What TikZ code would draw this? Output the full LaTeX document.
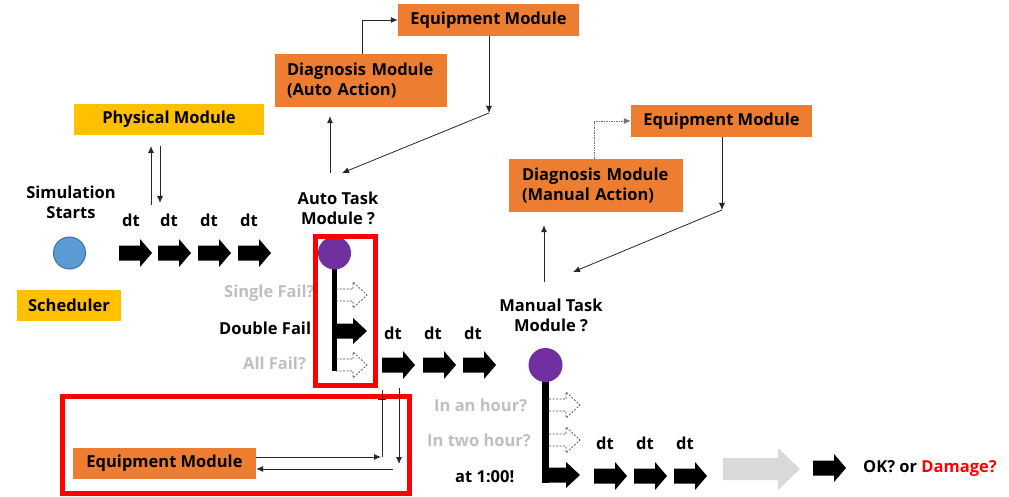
\documentclass[tikz,border=0pt]{standalone}
\usepackage{fontspec}
\setmainfont{Open Sans}
\usetikzlibrary{arrows.meta}
\definecolor{orng}{HTML}{ED7D31}
\definecolor{yel}{HTML}{FFC000}
\definecolor{purp}{HTML}{7030A0}
\definecolor{blu}{HTML}{5B9BD5}
\definecolor{bluedge}{HTML}{41719C}
\definecolor{lgray}{HTML}{BFBFBF}
\definecolor{arrgray}{HTML}{D9D9D9}
\definecolor{red1}{HTML}{FF0000}
\begin{document}
\begin{tikzpicture}[x=1pt,y=-1pt,
 font=\fontsize{16.5}{20}\selectfont\bfseries,
 box/.style={rectangle, inner sep=0pt, text=black},
 obox/.style={box, fill=orng},
 ybox/.style={box, fill=yel},
 lbl/.style={inner sep=0pt, align=center},
 glbl/.style={inner sep=0pt, anchor=west, text=lgray},
 blbl/.style={inner sep=0pt, anchor=west, text=black},
 conn/.style={draw=black!85, line width=0.8pt, -{Latex[length=7pt,width=6pt]}},
 plainline/.style={draw=black!85, line width=0.8pt},
 redbox/.style={draw=red1, line width=5pt},
 blk/.pic={\fill[black] (0,-7.5)--(21,-7.5)--(21,-14)--(33,0)--(21,14)--(21,7.5)--(0,7.5)--cycle;},
 blkshort/.pic={\fill[black] (0,-7.5)--(17,-7.5)--(17,-13)--(31,0)--(17,13)--(17,7.5)--(0,7.5)--cycle;},
 hol/.pic={\draw[black!70, line width=0.7pt, dash pattern=on 2pt off 1.5pt] (0,-6)--(17,-6)--(17,-13)--(31,0)--(17,13)--(17,6)--(0,6);},
]
\useasboundingbox (0,0) rectangle (1009,497);
\fill[white] (0,0) rectangle (1009,497);

% left part
\node[ybox, minimum width=190, minimum height=31] (phys) at (169,119.5) {\raisebox{-1pt}{Physical Module}};
\node[ybox, minimum width=104, minimum height=31] (sched) at (69,305.5) {Scheduler};
\node[lbl] (sim) at (71,202) {Simulation\\Starts};
\node[circle, fill=blu, draw=bluedge, line width=1pt, minimum size=32, inner sep=0pt] (start) at (69.5,253) {};

\node[lbl] (dt1) at (131,220) {dt};
\node[lbl] (dt2) at (169,220) {dt};
\node[lbl] (dt3) at (209,220) {dt};
\node[lbl] (dt4) at (249,220) {dt};
\pic at (119,253) {blk};
\pic at (158,253) {blk};
\pic at (198,253) {blk};
\pic at (238,253) {blk};

% auto task
\node[lbl] (autoq) at (338,208) {Auto Task\\Module ?};
\fill[black] (331.5,253) rectangle (336.5,371);
\node[circle, fill=purp, minimum size=33, inner sep=0pt] (autoc) at (334.5,253) {};
\pic at (336,295) {hol};
\pic at (336,331) {blkshort};
\pic at (336,365) {hol};
\node[glbl] (single) at (224,293) {Single Fail?};
\node[blbl] (double) at (219,328) {Double Fail};
\node[glbl] (allf) at (243,363) {All Fail?};

\node[lbl] (dt5) at (393,333) {dt};
\node[lbl] (dt6) at (433,333) {dt};
\node[lbl] (dt7) at (473,333) {dt};
\pic at (382,365) {blk};
\pic at (423,365) {blk};
\pic at (463,365) {blk};

% manual task
\node[lbl] (manq) at (551,315) {Manual Task\\Module ?};
\fill[black] (542,365) rectangle (549,482.5);
\node[circle, fill=purp, minimum size=34, inner sep=0pt] (manc) at (545.5,365) {};
\pic at (549,405) {hol};
\pic at (549,440) {hol};
\pic at (549,475) {blkshort};
\node[glbl] (hour1) at (434,405) {In an hour?};
\node[glbl] (hour2) at (427,440) {In two hour?};
\node[blbl] (at1) at (455,477) {at 1:00!};

\node[lbl] (dt8) at (605,443) {dt};
\node[lbl] (dt9) at (645,443) {dt};
\node[lbl] (dt10) at (685,443) {dt};
\pic at (594,476) {blk};
\pic at (634,476) {blk};
\pic at (674,476) {blk};

\fill[arrgray] (723,458)--(778,458)--(778,448)--(800,469)--(778,490)--(778,480)--(723,480)--cycle;
\pic at (813,468) {blk};
\node[blbl] (ok) at (863,468) {OK? or \textcolor{red1}{Damage?}};

% orange boxes
\node[obox, minimum width=172, minimum height=53, text width=148, align=left] (diagA) at (361,80.5) {Diagnosis Module\\(Auto Action)};
\node[obox, minimum width=181, minimum height=32] (eqA) at (488.5,20) {\raisebox{-1pt}{Equipment Module}};
\node[obox, minimum width=174, minimum height=53, text width=148, align=left] (diagM) at (596,185.5) {Diagnosis Module\\(Manual Action)};
\node[obox, minimum width=181, minimum height=32] (eqM) at (721.5,121) {\raisebox{-1pt}{Equipment Module}};
\node[obox, minimum width=183, minimum height=31] (eqB) at (164.5,463.5) {\raisebox{-1pt}{Equipment Module}};

% red boxes
\draw[redbox] (315.5,236.5) rectangle (375.5,385.5);
\draw[redbox] (62.5,396.5) rectangle (409.5,493.5);

% connectors
\coordinate (pu0) at (151,205);
\coordinate (pu1) at (151,146);
\draw[conn] (pu0) -- (pu1);
\coordinate (pd0) at (160,146);
\coordinate (pd1) at (160,203);
\draw[conn] (pd0) -- (pd1);

\coordinate (au0) at (330,173);
\draw[conn, shorten >=9pt] (au0) -- (au0 |- diagA.south);
\draw[conn] ([xshift=1pt]diagA.north) |- (eqA.west);
\coordinate (ea) at (489,113);
\draw[conn] (eqA.south -| ea) -- (ea);
\coordinate (auin) at (342,173);
\draw[conn] (ea) -- (auin);

\coordinate (mu0) at (544,282);
\draw[conn, shorten >=13pt] (mu0) -- (mu0 |- diagM.south);
\draw[conn, draw=black!55, dash pattern=on 1.5pt off 1pt] ([xshift=-2pt]diagM.north) |- (eqM.west);
\coordinate (em) at (722,210);
\draw[conn] (eqM.south -| em) -- (em);
\coordinate (manin) at (573,272);
\draw[conn] (em) -- (manin);

\coordinate (b1) at (381,457);
\draw[conn] (eqB.east |- b1) -- (b1);
\coordinate (b1v) at (382,457);
\coordinate (b2) at (382,390);
\draw[plainline] (b1v) -- (b2);
\draw[plainline] (378,399) -- (386,399);
\coordinate (b3) at (399,388);
\coordinate (b4) at (399,464);
\draw[conn] (b3) -- (b4);
\coordinate (b5) at (393,469);
\draw[conn] (b5) -- (b5 -| eqB.east);
\end{tikzpicture}
\end{document}
